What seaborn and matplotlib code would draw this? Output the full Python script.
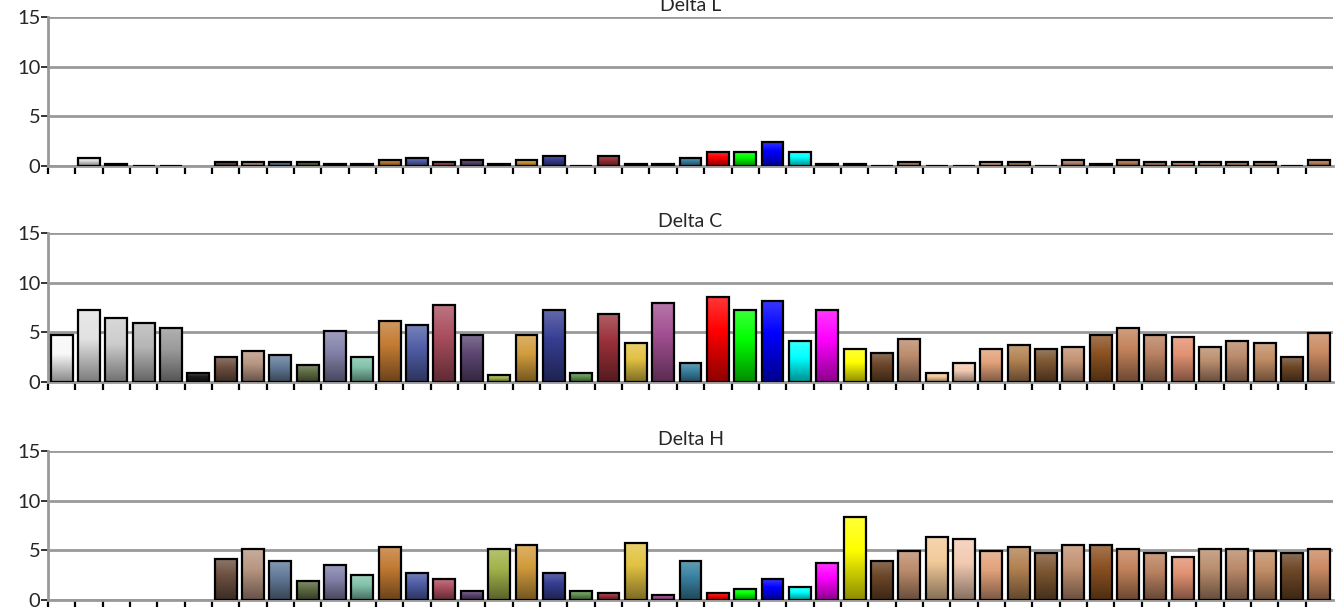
import numpy as np
import pandas as pd
import seaborn as sns
import matplotlib
matplotlib.use("Agg")
import matplotlib.pyplot as plt
from matplotlib.colors import to_rgb

# ----------------------------
# DATA
# ----------------------------
patches = [
    "White", "Gray 80", "Gray 65", "Gray 50", "Gray 35", "Black",
    "Dark Skin", "Light Skin", "Blue Sky", "Foliage", "Blue Flower", "Bluish Green",
    "Orange", "Purplish Blue", "Moderate Red", "Purple", "Yellow Green", "Orange Yellow",
    "Blue", "Green", "Red", "Yellow", "Magenta", "Cyan",
    "100% Red", "100% Green", "100% Blue", "100% Cyan", "100% Magenta", "100% Yellow",
    "Skin 1", "Skin 2", "Skin 3", "Skin 4", "Skin 5", "Skin 6", "Skin 7", "Skin 8",
    "Skin 9", "Skin 10", "Skin 11", "Skin 12", "Skin 13", "Skin 14", "Skin 15",
    "Skin 16", "Skin 17",
]

patch_colors = [
    "#f8f8f8", "#e2e2e2", "#cdcdcd", "#b6b6b6", "#9a9a9a", "#1a1a1a",
    "#6c5040", "#b89682", "#647c9a", "#5e6c44", "#8482aa", "#82c2aa",
    "#c27a32", "#505ea6", "#aa4e5e", "#5c4672", "#a2b24a", "#d29c3c",
    "#363e92", "#609252", "#9a3039", "#e2c242", "#a25092", "#3a82a2",
    "#ff0000", "#00ff00", "#0000ff", "#00ffff", "#ff00ff", "#ffff00",
    "#6c4628", "#bc8c6c", "#f2ca9a", "#f2cab2", "#e2a27a", "#b28252",
    "#7c5632", "#c29272", "#8c5222", "#c2825a", "#ba8262", "#e29272",
    "#ba8e6e", "#ba8a6a", "#c28e66", "#6c4626", "#ca8a62",
]

delta_l = [
    0.0, 0.85, 0.25, 0.05, 0.05, 0.0, 0.45, 0.45, 0.45, 0.45, 0.25, 0.25,
    0.65, 0.85, 0.45, 0.65, 0.25, 0.65, 1.05, 0.05, 1.05, 0.25, 0.25, 0.85,
    1.45, 1.45, 2.45, 1.45, 0.25, 0.25, 0.05, 0.45, 0.05, 0.05, 0.45, 0.45,
    0.05, 0.65, 0.25, 0.65, 0.45, 0.45, 0.45, 0.45, 0.45, 0.05, 0.65,
]

delta_c = [
    4.7, 7.2, 6.4, 5.9, 5.4, 0.9, 2.5, 3.1, 2.7, 1.7, 5.1, 2.5,
    6.1, 5.7, 7.75, 4.7, 0.7, 4.7, 7.2, 0.9, 6.8, 3.9, 8.0, 1.9,
    8.6, 7.2, 8.2, 4.1, 7.2, 3.3, 2.9, 4.35, 0.9, 1.9, 3.3, 3.7,
    3.3, 3.5, 4.75, 5.4, 4.75, 4.55, 3.5, 4.15, 3.9, 2.5, 4.95,
]

delta_h = [
    0.0, 0.0, 0.0, 0.0, 0.0, 0.0, 4.1, 5.15, 3.95, 1.9, 3.55, 2.5,
    5.35, 2.75, 2.1, 0.9, 5.15, 5.55, 2.75, 0.9, 0.7, 5.75, 0.5, 3.95,
    0.7, 1.1, 2.1, 1.3, 3.75, 8.4, 3.95, 4.95, 6.35, 6.15, 4.95, 5.35,
    4.75, 5.55, 5.55, 5.15, 4.75, 4.35, 5.15, 5.15, 4.95, 4.75, 5.15,
]

panels = [("Delta L", delta_l), ("Delta C", delta_c), ("Delta H", delta_h)]

# ----------------------------
# STYLE
# ----------------------------
sns.set_style("white")
plt.rcParams["font.family"] = ["Lato", "DejaVu Sans"]
grid_gray = "#999999"


def gradient(color, n=64):
    # light at the top, base colour near 40%, darker at the bottom
    c = np.array(to_rgb(color))
    t = np.linspace(0, 1, n)[:, None]
    light = c + (1 - c) * 0.22 * np.clip(1 - t / 0.4, 0, 1)
    dark = c * (1 - 0.45 * np.clip((t - 0.4) / 0.6, 0, 1))
    rgb = np.where(t < 0.4, light, dark)
    return rgb[:, None, :]


fig = plt.figure(figsize=(13.36, 6.07), dpi=100)
bottoms = [0.7265, 0.3707, 0.0115]
height = 0.2455

for (title, values), bottom in zip(panels, bottoms):
    ax = fig.add_axes([0.0359, bottom, 0.9619, height])
    df = pd.DataFrame({"patch": patches, "value": values})
    sns.barplot(
        data=df, x="patch", y="value", hue="patch",
        palette=patch_colors, legend=False, width=0.8,
        edgecolor="black", linewidth=1.6, ax=ax,
    )

    # vertical gradient fill, clipped to each bar
    for bar, col, v in zip(ax.patches, patch_colors, values):
        if v <= 0:
            bar.set_visible(False)
            continue
        x0, w, h = bar.get_x(), bar.get_width(), bar.get_height()
        img = ax.imshow(gradient(col), extent=(x0, x0 + w, 0, h),
                        aspect="auto", zorder=0.9, interpolation="bilinear")
        img.set_clip_path(bar)
        bar.set_facecolor("none")
        bar.set_zorder(1)

    ax.set_xlim(-0.5, len(patches) - 0.5)
    ax.set_ylim(0, 15)
    ax.set_yticks([0, 5, 10, 15])
    ax.set_xticks(np.arange(len(patches)) - 0.5)
    ax.set_xticklabels([])
    ax.set_xlabel("")
    ax.set_ylabel("")
    ax.set_title(title, fontsize=14, pad=4)

    ax.set_axisbelow(True)
    ax.yaxis.grid(True, color=grid_gray, linewidth=2)
    for side in ["top", "right"]:
        ax.spines[side].set_visible(False)
    for side in ["left", "bottom"]:
        ax.spines[side].set_color(grid_gray)
        ax.spines[side].set_linewidth(2)
        ax.spines[side].set_zorder(0.8)

    ax.tick_params(axis="x", direction="out", length=6, width=1.6,
                   color="black", bottom=True)
    ax.tick_params(axis="y", direction="out", length=5, width=1.4,
                   color="#333333", labelsize=14.5, pad=0.5, left=True)

plt.savefig("out.png", dpi=100)
